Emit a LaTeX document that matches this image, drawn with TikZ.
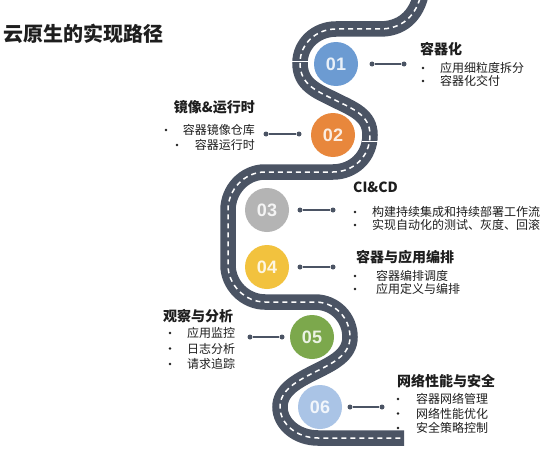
\documentclass[tikz,border=0pt]{standalone}
\usepackage{fontspec}
\setmainfont{Noto Sans CJK SC}
\newfontfamily\numfont{Liberation Sans}
\usepackage{xcolor}
\definecolor{Road}{RGB}{75,84,100}
\definecolor{StopA}{RGB}{108,155,210}
\definecolor{StopB}{RGB}{232,135,60}
\definecolor{StopC}{RGB}{180,180,180}
\definecolor{StopD}{RGB}{242,194,62}
\definecolor{StopE}{RGB}{124,168,76}
\definecolor{StopF}{RGB}{170,196,230}
\definecolor{Ink}{RGB}{30,30,30}

\begin{document}
\begin{tikzpicture}[x=1pt, y=-1pt,
  road/.style={draw=Road, line width=15.5pt},
  lane/.style={draw=white, line width=1.5pt, dash pattern=on 5pt off 4pt},
  station/.style={circle, fill=#1, text=white!85!#1, minimum size=44pt, inner sep=0pt,
    font=\numfont\bfseries\fontsize{18}{18}\selectfont},
  dotend/.style={circle, fill=Road, minimum size=5pt, inner sep=0pt},
  link/.style={draw=Road, line width=1.3pt},
  heading/.style={font=\bfseries\fontsize{14}{14}\selectfont, text=Ink, inner sep=0pt},
  item/.style={font=\fontsize{12}{12}\selectfont, text=Ink, inner sep=0pt},
  bul/.style={circle, fill=Ink, minimum size=2.6pt, inner sep=0pt}]
\useasboundingbox[fill=white] (0,0) rectangle (559,452);

\draw[road, postaction={lane}] (422,-10) .. controls (417,18) and (400,29) .. (380,29) -- (336,29)
  .. controls (316,29) and (300,44) .. (300,63) .. controls (300,85) and (317,91) .. (335,100)
  .. controls (353,109) and (370,115) .. (370,135) .. controls (370,157) and (353,172) .. (333,172)
  -- (265,172) .. controls (244,172) and (228,190) .. (228,210) -- (228,265)
  .. controls (228,285) and (245,302) .. (265,302) -- (315,302)
  .. controls (335,302) and (350,318) .. (350,337) .. controls (350,355) and (333,363) .. (315,372)
  .. controls (297,381) and (280,390) .. (280,407) .. controls (280,424) and (297,438) .. (318,438)
  -- (404,438);
\draw[white, line width=0.8pt] (292,61) -- (308,61);
\draw[white, line width=0.8pt] (362,141) -- (378,141);

\node[station=StopA] (s1) at (336,64) {01};
\node[station=StopB] (s2) at (333,135) {02};
\node[station=StopC] (s3) at (267,210) {03};
\node[station=StopD] (s4) at (267,267) {04};
\node[station=StopE] (s5) at (312,337) {05};
\node[station=StopF] (s6) at (320,407) {06};

\node[dotend] (d1a) at (372,64) {};
\node[dotend] (d1b) at (404,64) {};
\draw[link] (d1a) -- (d1b);
\node[dotend] (d2a) at (299,134) {};
\node[dotend] (d2b) at (266,134) {};
\draw[link] (d2a) -- (d2b);
\node[dotend] (d3a) at (300,210) {};
\node[dotend] (d3b) at (333,210) {};
\draw[link] (d3a) -- (d3b);
\node[dotend] (d4a) at (300,267) {};
\node[dotend] (d4b) at (333,267) {};
\draw[link] (d4a) -- (d4b);
\node[dotend] (d5a) at (282,337) {};
\node[dotend] (d5b) at (250,337) {};
\draw[link] (d5a) -- (d5b);
\node[dotend] (d6a) at (350,407) {};
\node[dotend] (d6b) at (382,407) {};
\draw[link] (d6a) -- (d6b);

\node[font=\bfseries\fontsize{20}{20}\selectfont, text=Ink, inner sep=0pt, anchor=west] (title) at (3,34) {云原生的实现路径};

\node[heading, anchor=west] (h1) at (420,49) {容器化};
\node[bul] (b1a) at (423,68) {};
\node[item, anchor=west] (t1a) at (440,68) {应用细粒度拆分};
\node[bul] (b1b) at (423,81) {};
\node[item, anchor=west] (t1b) at (440,81) {容器化交付};

\node[heading, anchor=east] (h2) at (255,107) {镜像\&运行时};
\node[bul] (b2a) at (166,130) {};
\node[item, anchor=east] (t2a) at (255,130) {容器镜像仓库};
\node[bul] (b2b) at (177,145) {};
\node[item, anchor=east] (t2b) at (255,145) {容器运行时};

\node[heading, anchor=west] (h3) at (353,187) {CI\&CD};
\node[bul] (b3a) at (355,212) {};
\node[item, anchor=west] (t3a) at (372,212) {构建持续集成和持续部署工作流};
\node[bul] (b3b) at (355,225) {};
\node[item, anchor=west] (t3b) at (372,225) {实现自动化的测试、灰度、回滚};

\node[heading, anchor=west] (h4) at (356,257) {容器与应用编排};
\node[bul] (b4a) at (355,276) {};
\node[item, anchor=west] (t4a) at (376,276) {容器编排调度};
\node[bul] (b4b) at (355,289) {};
\node[item, anchor=west] (t4b) at (376,289) {应用定义与编排};

\node[heading, anchor=west] (h5) at (163,316) {观察与分析};
\node[bul] (b5a) at (170,333) {};
\node[item, anchor=west] (t5a) at (187,333) {应用监控};
\node[bul] (b5b) at (170,348.5) {};
\node[item, anchor=west] (t5b) at (187,348.5) {日志分析};
\node[bul] (b5c) at (170,364) {};
\node[item, anchor=west] (t5c) at (187,364) {请求追踪};

\node[heading, anchor=west] (h6) at (397,381) {网络性能与安全};
\node[bul] (b6a) at (398,399) {};
\node[item, anchor=west] (t6a) at (416,399) {容器网络管理};
\node[bul] (b6b) at (398,413.5) {};
\node[item, anchor=west] (t6b) at (416,413.5) {网络性能优化};
\node[bul] (b6c) at (398,428) {};
\node[item, anchor=west] (t6c) at (416,428) {安全策略控制};
\end{tikzpicture}
\end{document}
